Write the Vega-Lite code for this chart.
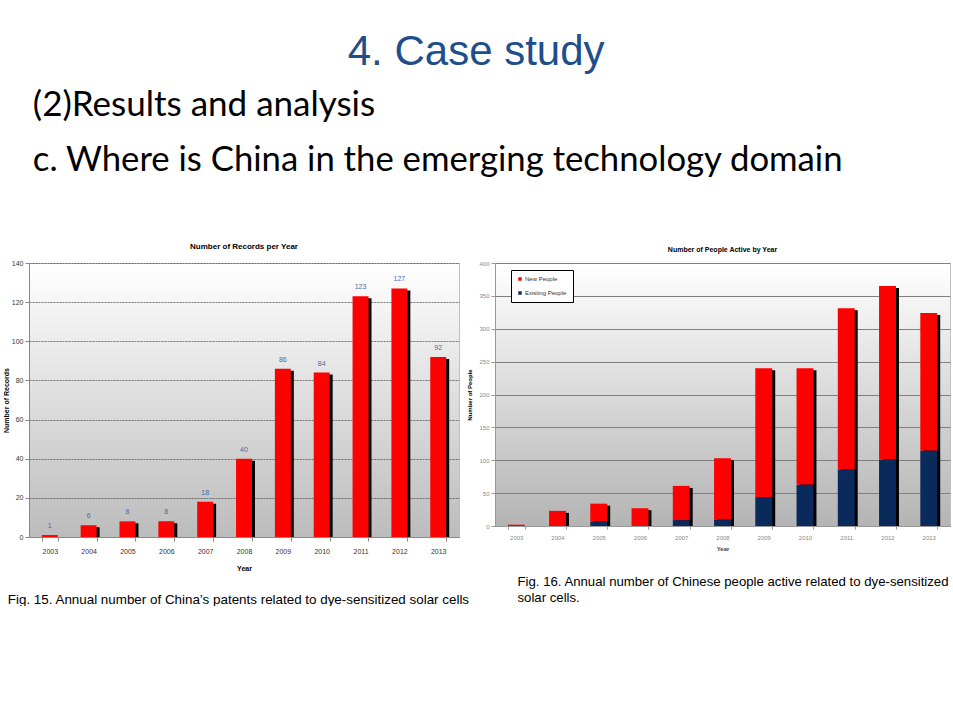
{
  "$schema": "https://vega.github.io/schema/vega-lite/v6.json",
  "background": "white",
  "padding": {"left": 1, "top": 30, "right": 0, "bottom": 0},
  "title": {"text": "4. Case study", "font": "Liberation Sans", "fontSize": 42, "fontWeight": "normal", "color": "#1f4e8c", "anchor": "middle", "offset": 14},
  "config": {
    "font": "Liberation Sans",
    "axis": {"labelFont": "Liberation Sans", "titleFont": "Liberation Sans"},
    "legend": {"labelFont": "Liberation Sans"}
  },
  "vconcat": [
    {
      "title": {
        "text": "(2)Results and analysis",
        "subtitle": "c. Where is China in the emerging technology domain",
        "anchor": "start",
        "font": "Lato",
        "fontSize": 35,
        "fontWeight": "normal",
        "color": "black",
        "subtitleFont": "Lato",
        "subtitleFontSize": 34.7,
        "subtitleColor": "black",
        "subtitlePadding": 21,
        "dx": 31,
        "offset": 65
      },
      "spacing": -4,
      "hconcat": [
        {
          "title": {
            "text": "Fig. 15. Annual number of China’s patents related to dye-sensitized solar cells",
            "orient": "bottom",
            "anchor": "start",
            "font": "Liberation Sans",
            "fontSize": 13.4,
            "fontWeight": "normal",
            "color": "black",
            "offset": 21,
            "dx": 6
          },
          "vconcat": [
            {
              "width": 430,
              "height": 274,
              "title": {"text": "Number of Records per Year", "font": "Liberation Sans", "fontSize": 8, "fontWeight": "bold", "color": "black", "offset": 8},
              "view": {
                "stroke": "#c0c0c0",
                "fill": {"gradient": "linear", "x1": 0, "y1": 0, "x2": 0, "y2": 1, "stops": [{"offset": 0, "color": "#ffffff"}, {"offset": 1, "color": "#bcbcbc"}]}
              },
              "data": {"values": [
                {"year": "2003", "records": 1},
                {"year": "2004", "records": 6},
                {"year": "2005", "records": 8},
                {"year": "2006", "records": 8},
                {"year": "2007", "records": 18},
                {"year": "2008", "records": 40},
                {"year": "2009", "records": 86},
                {"year": "2010", "records": 84},
                {"year": "2011", "records": 123},
                {"year": "2012", "records": 127},
                {"year": "2013", "records": 92}
              ]},
              "encoding": {
                "x": {
                  "field": "year", "type": "ordinal",
                  "scale": {"paddingInner": 0.59, "paddingOuter": 0.33},
                  "axis": {"title": "Year", "labelAngle": 0, "labelFontSize": 7, "labelColor": "#333333", "labelPadding": 6, "titleFontSize": 7, "titleFontWeight": "bold", "titleColor": "black", "titlePadding": 10, "tickBand": "extent", "tickColor": "#888888", "domainColor": "#888888", "tickSize": 4}
                },
                "y": {
                  "field": "records", "type": "quantitative",
                  "scale": {"domain": [0, 140]},
                  "axis": {"title": "Number of Records", "values": [0, 20, 40, 60, 80, 100, 120, 140], "labelFontSize": 7, "labelColor": "#333333", "titleFontSize": 7, "titleFontWeight": "bold", "titleColor": "black", "titlePadding": 2, "gridColor": "#555555", "gridDash": [2, 1], "gridWidth": 0.8, "domainColor": "#888888", "tickColor": "#888888", "tickSize": 4}
                }
              },
              "layer": [
                {"mark": {"type": "bar", "color": "black", "xOffset": 3, "yOffset": 2, "clip": true}},
                {"mark": {"type": "bar", "color": "#ff0000"}},
                {"mark": {"type": "text", "dy": -9, "fontSize": 7, "color": "#4a6aa5"}, "encoding": {"text": {"field": "records", "type": "quantitative"}}}
              ]
            }
          ]
        },
        {
          "title": {
            "text": ["Fig. 16. Annual number of Chinese people active related to dye-sensitized", "solar cells."],
            "orient": "bottom",
            "anchor": "start",
            "font": "Liberation Sans",
            "fontSize": 13.2,
            "lineHeight": 16,
            "fontWeight": "normal",
            "color": "black",
            "offset": 24,
            "dx": 51
          },
          "resolve": {"legend": {"color": "independent"}},
          "vconcat": [
            {
              "width": 455,
              "height": 263,
              "title": {"text": "Number of People Active by Year", "font": "Liberation Sans", "fontSize": 7, "fontWeight": "bold", "color": "black", "offset": 7},
              "view": {
                "stroke": "#c0c0c0",
                "fill": {"gradient": "linear", "x1": 0, "y1": 0, "x2": 0, "y2": 1, "stops": [{"offset": 0, "color": "#ffffff"}, {"offset": 1, "color": "#b4b4b4"}]}
              },
              "data": {"values": [
                {"year": "2003", "type": "Existing People", "count": 0},
                {"year": "2003", "type": "New People", "count": 2},
                {"year": "2004", "type": "Existing People", "count": 0},
                {"year": "2004", "type": "New People", "count": 23},
                {"year": "2005", "type": "Existing People", "count": 7},
                {"year": "2005", "type": "New People", "count": 27},
                {"year": "2006", "type": "Existing People", "count": 0},
                {"year": "2006", "type": "New People", "count": 27},
                {"year": "2007", "type": "Existing People", "count": 9},
                {"year": "2007", "type": "New People", "count": 52},
                {"year": "2008", "type": "Existing People", "count": 10},
                {"year": "2008", "type": "New People", "count": 93},
                {"year": "2009", "type": "Existing People", "count": 44},
                {"year": "2009", "type": "New People", "count": 196},
                {"year": "2010", "type": "Existing People", "count": 63},
                {"year": "2010", "type": "New People", "count": 177},
                {"year": "2011", "type": "Existing People", "count": 86},
                {"year": "2011", "type": "New People", "count": 245},
                {"year": "2012", "type": "Existing People", "count": 101},
                {"year": "2012", "type": "New People", "count": 264},
                {"year": "2013", "type": "Existing People", "count": 115},
                {"year": "2013", "type": "New People", "count": 209}
              ]},
              "encoding": {
                "x": {
                  "field": "year", "type": "ordinal",
                  "scale": {"paddingInner": 0.59, "paddingOuter": 0.31},
                  "axis": {"title": "Year", "labelAngle": 0, "labelFontSize": 6, "labelColor": "#888888", "labelPadding": 5, "titleFontSize": 6, "titleFontWeight": "bold", "titleColor": "#444444", "titlePadding": 5, "tickBand": "extent", "tickColor": "#999999", "domainColor": "#999999", "tickSize": 3}
                },
                "y": {
                  "field": "count", "type": "quantitative", "aggregate": "sum",
                  "scale": {"domain": [0, 400]},
                  "axis": {"title": "Number of People", "values": [0, 50, 100, 150, 200, 250, 300, 350, 400], "labelFontSize": 6, "labelColor": "#888888", "titleFontSize": 6, "titleFontWeight": "bold", "titleColor": "black", "titlePadding": 6, "gridColor": "#808080", "gridWidth": 1, "domainColor": "#999999", "tickColor": "#999999", "tickSize": 4}
                }
              },
              "layer": [
                {"mark": {"type": "bar", "color": "black", "xOffset": 3, "yOffset": 2, "clip": true}},
                {
                  "mark": {"type": "bar"},
                  "encoding": {
                    "order": {"field": "type", "type": "nominal", "sort": "ascending"},
                    "color": {
                      "field": "type", "type": "nominal",
                      "scale": {"domain": ["New People", "Existing People"], "range": ["#ff0000", "#0b2a5c"]},
                      "legend": {"title": null, "orient": "none", "legendX": 16, "legendY": 7, "direction": "vertical", "fillColor": "white", "strokeColor": "black", "padding": 6, "symbolType": "square", "symbolSize": 12, "labelFontSize": 6, "labelColor": "#333333", "rowPadding": 8, "labelOffset": 2}
                    }
                  }
                }
              ]
            }
          ]
        }
      ]
    }
  ]
}
